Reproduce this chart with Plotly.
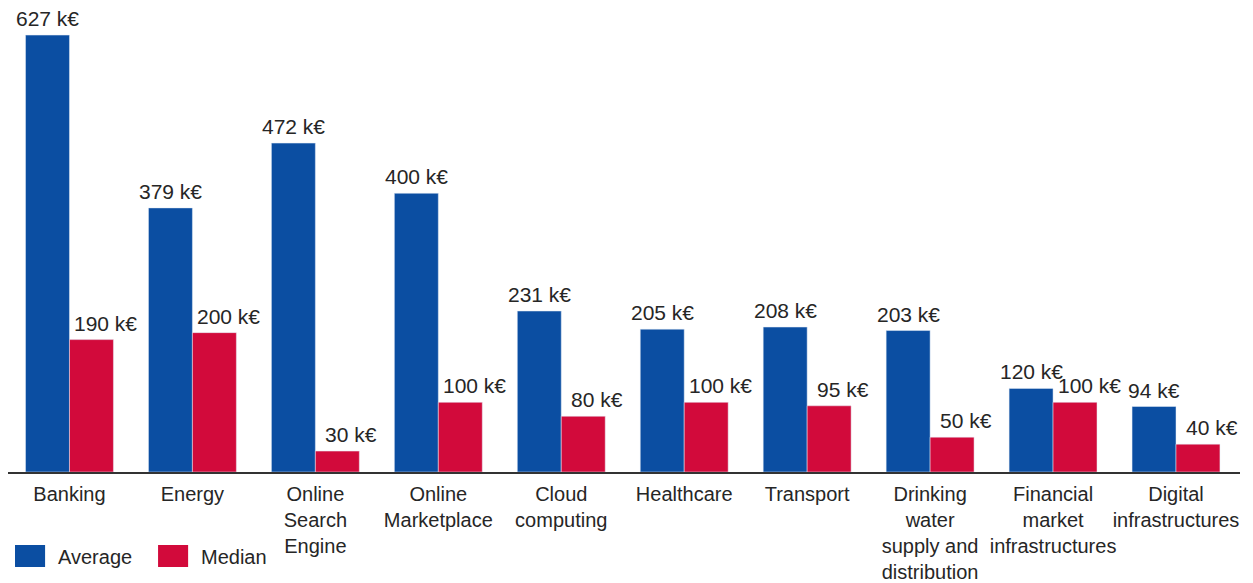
import plotly.graph_objects as go

# Sectors and values (k€)
sectors = [
    "Banking", "Energy", "Online<br>Search<br>Engine", "Online<br>Marketplace",
    "Cloud<br>computing", "Healthcare", "Transport",
    "Drinking<br>water<br>supply and<br>distribution",
    "Financial<br>market<br>infrastructures", "Digital<br>infrastructures",
]
average = [627, 379, 472, 400, 231, 205, 208, 203, 120, 94]
median = [190, 200, 30, 100, 80, 100, 95, 50, 100, 40]

blue = "#0B4EA2"
red = "#D20A3B"
font = "Liberation Sans, Arial, sans-serif"
txt = "#262626"

fig = go.Figure()
fig.add_trace(go.Bar(name="Average", x=sectors, y=average, marker_color=blue))
fig.add_trace(go.Bar(name="Median", x=sectors, y=median, marker_color=red))

# value labels above bars (median labels sit a bit to the right, as in the original)
for vals, shift in [(average, -22), (median, 36)]:
    for cat, v in zip(sectors, vals):
        fig.add_annotation(x=cat, y=v, text=f"{v} k€", showarrow=False,
                           xshift=shift, yshift=3, yanchor="bottom",
                           font=dict(size=21, color=txt))

# hand-made legend with larger swatches
legend_items = [("Average", blue, 0.0057), ("Median", red, 0.1218)]
for label, color, x0 in legend_items:
    fig.add_shape(type="rect", xref="paper", yref="paper",
                  x0=x0, x1=x0 + 0.0244, y0=-0.2056, y1=-0.158,
                  fillcolor=color, line_width=0)
    fig.add_annotation(text=label, xref="paper", yref="paper",
                       x=x0 + 0.0335, y=-0.184, xanchor="left", yanchor="middle",
                       showarrow=False, font=dict(size=20, color=txt))

# page body has an 8px margin, so the figure is 8px smaller each way
fig.update_layout(
    width=1245, height=575,
    margin=dict(l=0, r=13, t=2, b=111),
    barmode="group", bargap=0.285, bargroupgap=0,
    plot_bgcolor="white", paper_bgcolor="white",
    showlegend=False,
    font=dict(family=font, size=20, color=txt),
    xaxis=dict(showline=True, linecolor="#333", linewidth=1.5, automargin=False,
               ticks="", tickangle=0, ticklabelstandoff=3,
               tickfont=dict(size=20), showgrid=False),
    yaxis=dict(range=[0, 663], visible=False, showgrid=False, automargin=False),
)

fig.write_html("out.html")
